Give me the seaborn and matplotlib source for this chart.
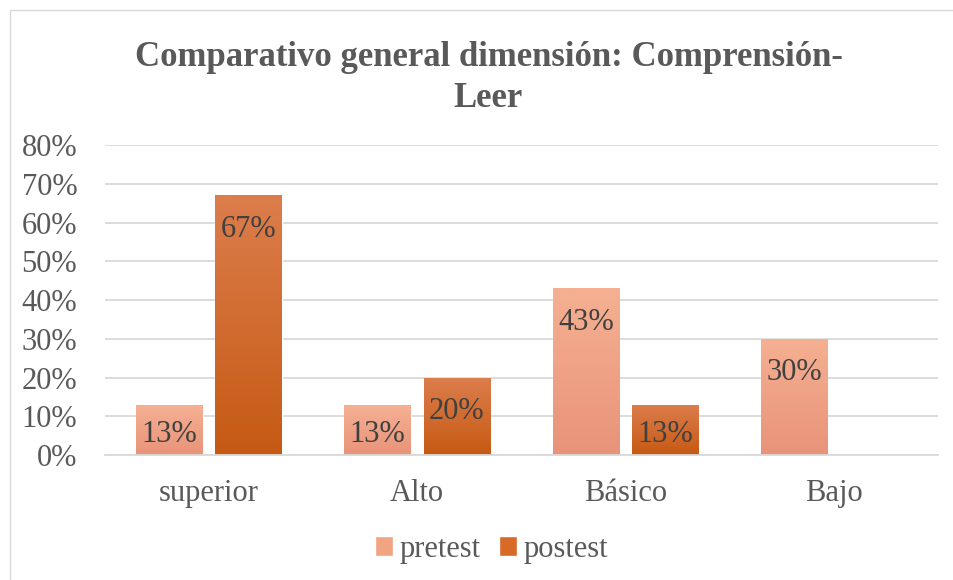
import numpy as np
import pandas as pd
import matplotlib
matplotlib.use("Agg")
import matplotlib.pyplot as plt
import seaborn as sns
from matplotlib.colors import LinearSegmentedColormap
from matplotlib.patches import Rectangle

categories = ["superior", "Alto", "Básico", "Bajo"]
series = ["pretest", "postest"]
pretest = [0.13, 0.13, 0.43, 0.30]
postest = [0.67, 0.20, 0.13, 0.00]
yticks = [0.0, 0.1, 0.2, 0.3, 0.4, 0.5, 0.6, 0.7, 0.8]
title = "Comparativo general dimensión: Comprensión-\nLeer"

colors = {"pretest": "#F0A482", "postest": "#D76A27"}
grad = {"pretest": ("#F5B092", "#E8937A"), "postest": ("#DC7D4C", "#C65A14")}

df = pd.DataFrame({
    "cat": categories * 2,
    "serie": ["pretest"] * 4 + ["postest"] * 4,
    "val": pretest + postest,
})

sns.set_theme(style="white")
plt.rcParams["font.family"] = ["Liberation Serif", "DejaVu Serif"]

fig = plt.figure(figsize=(9.54, 5.8), dpi=100)
ax = fig.add_axes([0.110, 0.2155, 0.873, 0.5345])

sns.barplot(data=df, x="cat", y="val", hue="serie", order=categories,
            hue_order=series, palette=colors, width=0.76, gap=0.16,
            ax=ax, legend=False, saturation=1)

ax.set_xlim(-0.5, 3.5)
ax.set_ylim(0, 0.8)
ax.set_yticks(yticks)
ax.set_yticklabels([f"{int(round(t*100))}%" for t in yticks])
ax.yaxis.grid(True, color="#D9D9D9", linewidth=1.3)
ax.set_axisbelow(True)
for s in ["top", "right", "left"]:
    ax.spines[s].set_visible(False)
ax.spines["bottom"].set_color("#D9D9D9")
ax.spines["bottom"].set_linewidth(1.3)
ax.set_xlabel("")
ax.set_ylabel("")
ax.tick_params(axis="both", length=0, labelsize=22, labelcolor="#595959")
ax.tick_params(axis="y", pad=20)
ax.tick_params(axis="x", pad=17)

# gradients & labels
for i, p in enumerate(ax.patches):
    s = series[i // len(categories)]
    c = categories[i % len(categories)]
    v = df[(df.serie == s) & (df.cat == c)].val.iloc[0]
    x0, w = p.get_x(), p.get_width()
    h = p.get_height()
    if h <= 0:
        continue
    cmap = LinearSegmentedColormap.from_list("g", [grad[s][1], grad[s][0]])
    g = np.linspace(0, 1, 100).reshape(-1, 1)
    im = ax.imshow(g, cmap=cmap, aspect="auto", origin="lower",
                   extent=[x0, x0 + w, 0, h], zorder=2)
    im.set_clip_path(p)
    off = min(0.05, h * 0.3)
    ax.text(x0 + w / 2, h - off, f"{int(round(v*100))}%", ha="center",
            va="top", fontsize=22, color="#404040", zorder=4)

ax.set_xlim(-0.5, 3.5)
ax.set_ylim(0, 0.8)

fig.text(0.512, 0.929, title, ha="center", va="top", fontsize=25,
         fontweight="bold", color="#595959", linespacing=1.3)

handles = [Rectangle((0, 0), 1, 1, facecolor=colors[s]) for s in series]
fig.legend(handles, series, loc="center", bbox_to_anchor=(0.515, 0.053),
           ncol=2, frameon=False, fontsize=22, handlelength=0.6,
           handleheight=0.6, handletextpad=0.2, columnspacing=0.6,
           labelcolor="#595959")

fig.patches.append(Rectangle((0.011, -0.01), 1.5, 0.993, transform=fig.transFigure,
                             fill=False, edgecolor="#D9D9D9", linewidth=1))

fig.savefig("out.png", dpi=100)
